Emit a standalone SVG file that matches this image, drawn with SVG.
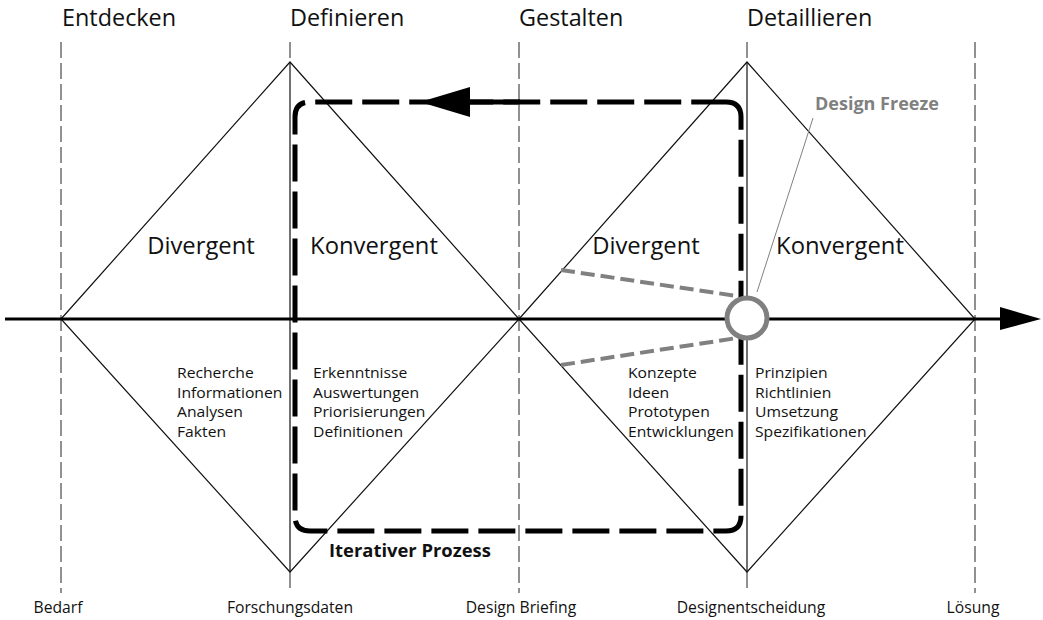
<svg xmlns="http://www.w3.org/2000/svg" width="1043" height="620" viewBox="0 0 1043 620">
  <style>
    .phase { font-family: "Open Sans", "Noto Sans", sans-serif; font-size: 23.4px; fill: #111; }
    .mode { font-family: "Open Sans", "Noto Sans", sans-serif; font-size: 23.8px; fill: #111; }
    .item { font-family: "Open Sans", "Noto Sans", sans-serif; font-size: 14.3px; fill: #111; }
    .mile { font-family: "Open Sans", "Noto Sans", sans-serif; font-size: 15.7px; fill: #111; text-anchor: middle; }
    .grid { stroke: #222; stroke-width: 1; stroke-dasharray: 16 5; fill: none; }
    .solid { stroke: #111; stroke-width: 1.2; fill: none; }
    .loop { stroke: #000; stroke-width: 5; stroke-dasharray: 37 10; fill: none; }
    .ray { stroke: #808080; stroke-width: 4; stroke-dasharray: 14 6; fill: none; }
  </style>
  <rect width="1043" height="620" fill="#fff"/>

  <!-- phase headings -->
  <g id="headings">
    <text class="phase" x="62" y="26">Entdecken</text>
    <text class="phase" x="290" y="26">Definieren</text>
    <text class="phase" x="519" y="26">Gestalten</text>
    <text class="phase" x="747" y="26">Detaillieren</text>
  </g>

  <!-- milestone guides -->
  <g id="guides">
    <line class="grid" x1="61" y1="42" x2="61" y2="593"/>
    <line class="grid" x1="290" y1="42" x2="290" y2="62"/>
    <line class="solid" x1="290" y1="62" x2="290" y2="572"/>
    <line class="grid" x1="290" y1="572" x2="290" y2="593"/>
    <line class="grid" x1="519" y1="42" x2="519" y2="593"/>
    <line class="grid" x1="747" y1="42" x2="747" y2="62"/>
    <line class="solid" x1="747" y1="62" x2="747" y2="572"/>
    <line class="grid" x1="747" y1="572" x2="747" y2="593"/>
    <line class="grid" x1="975" y1="42" x2="975" y2="593"/>
  </g>

  <!-- double diamonds -->
  <g id="diamond-1">
    <polygon class="solid" points="61,319 290,62 519,319 290,572"/>
    <text class="mode" x="201" y="254" text-anchor="middle">Divergent</text>
    <text class="mode" x="374" y="254" text-anchor="middle">Konvergent</text>
  </g>
  <g id="diamond-2">
    <polygon class="solid" points="519,319 747,62 975,319 747,572"/>
    <text class="mode" x="646" y="254" text-anchor="middle">Divergent</text>
    <text class="mode" x="840" y="254" text-anchor="middle">Konvergent</text>
  </g>

  <!-- main time axis -->
  <g id="axis">
    <line x1="5" y1="319" x2="1002" y2="319" stroke="#000" stroke-width="3"/>
    <polygon points="1000,307 1041,319 1000,330" fill="#000"/>
  </g>

  <!-- iteration loop -->
  <g id="iteration">
    <path class="loop" d="M 726 102 Q 741 102 741 117 V 516 Q 741 531 726 531 H 310 Q 295 531 295 516 V 117 Q 295 102 310 102 Z"/>
    <line x1="468" y1="102" x2="520" y2="102" stroke="#000" stroke-width="5"/>
    <polygon points="420,102 470,87 470,117" fill="#000"/>
    <text x="329" y="557" font-family="'Open Sans', 'Noto Sans', sans-serif" font-size="18.4" font-weight="bold" fill="#111">Iterativer Prozess</text>
  </g>

  <!-- design freeze marker -->
  <g id="design-freeze">
    <line class="ray" x1="561" y1="270" x2="737" y2="296"/>
    <line class="ray" x1="561" y1="365" x2="737" y2="338"/>
    <line x1="813" y1="118" x2="757" y2="292" stroke="#808080" stroke-width="1"/>
    <circle cx="747" cy="318" r="20" fill="#fff" stroke="#808080" stroke-width="5"/>
    <text x="815" y="110" font-family="'Open Sans', 'Noto Sans', sans-serif" font-size="18" font-weight="bold" fill="#808080">Design Freeze</text>
  </g>

  <!-- activity lists (slightly widened type) -->
  <g id="list-entdecken" transform="translate(177 0) scale(1.098 1)">
    <text class="item" x="0" y="378.5">Recherche</text>
    <text class="item" x="0" y="398">Informationen</text>
    <text class="item" x="0" y="417.5">Analysen</text>
    <text class="item" x="0" y="437">Fakten</text>
  </g>
  <g id="list-definieren" transform="translate(313 0) scale(1.098 1)">
    <text class="item" x="0" y="378.5">Erkenntnisse</text>
    <text class="item" x="0" y="398">Auswertungen</text>
    <text class="item" x="0" y="417.5">Priorisierungen</text>
    <text class="item" x="0" y="437">Definitionen</text>
  </g>
  <g id="list-gestalten" transform="translate(628 0) scale(1.098 1)">
    <text class="item" x="0" y="378.5">Konzepte</text>
    <text class="item" x="0" y="398">Ideen</text>
    <text class="item" x="0" y="417.5">Prototypen</text>
    <text class="item" x="0" y="437">Entwicklungen</text>
  </g>
  <g id="list-detaillieren" transform="translate(755 0) scale(1.098 1)">
    <text class="item" x="0" y="378.5">Prinzipien</text>
    <text class="item" x="0" y="398">Richtlinien</text>
    <text class="item" x="0" y="417.5">Umsetzung</text>
    <text class="item" x="0" y="437">Spezifikationen</text>
  </g>

  <!-- milestones -->
  <g id="milestones">
    <text class="mile" x="58" y="613">Bedarf</text>
    <text class="mile" x="290" y="613">Forschungsdaten</text>
    <text class="mile" x="521" y="613">Design Briefing</text>
    <text class="mile" x="751" y="613">Designentscheidung</text>
    <text class="mile" x="973" y="613">Lösung</text>
  </g>
</svg>
